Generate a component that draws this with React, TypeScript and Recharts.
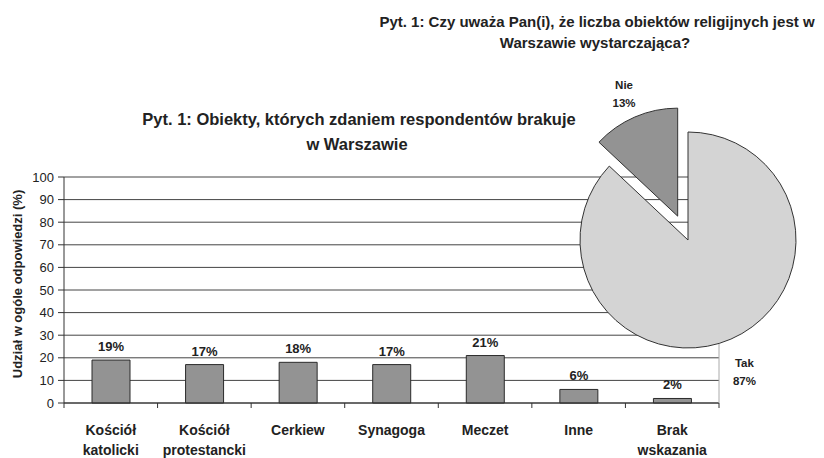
import {BarChart, Bar, XAxis, YAxis, CartesianGrid, LabelList, PieChart, Pie, Cell} from 'recharts';

// bar chart: which religious buildings respondents think are missing
const categories = ['Kościół katolicki', 'Kościół protestancki', 'Cerkiew', 'Synagoga', 'Meczet', 'Inne', 'Brak wskazania'];
const shares = [19, 17, 18, 17, 21, 6, 2];
const yTicks = [0, 10, 20, 30, 40, 50, 60, 70, 80, 90, 100];

// pie: is the number of religious buildings sufficient
const pieNames = ['Nie', 'Tak'];
const pieValues = [13, 87];

const W = 824;
const H = 458;
const FONT = '"Liberation Sans", Arial, sans-serif';
const INK = '#222';

const barData = categories.map((name, i) => ({name, value: shares[i]}));
const pieData = pieNames.map((name, i) => ({name, value: pieValues[i]}));

const margin = {top: 177, right: 104, bottom: 0, left: 0};
const yAxisWidth = 64;
const plotWidth = W - margin.left - yAxisWidth - margin.right - 1;
const band = plotWidth / categories.length;

const RADIAN = Math.PI / 180;
const pieCx = 688;
const pieCy = 240;
const pieR = 108;
const startAngle = 90;
const total = pieValues.reduce((a, b) => a + b, 0);
// "Nie" slice is pulled out along its bisector
const nieMid = startAngle + (360 * pieValues[0]) / total / 2;
const explode = 26;
const nieCx = pieCx + explode * Math.cos(nieMid * RADIAN);
const nieCy = pieCy - explode * Math.sin(nieMid * RADIAN);

function CategoryTick(props: any) {
    const {x, y, payload, index} = props;
    const lines = String(payload.value).split(' ');
    return (
        <g>
            <line x1={x - band / 2} x2={x - band / 2} y1={y} y2={y + 5} stroke="#333"/>
            {index === categories.length - 1 && (
                <line x1={x + band / 2} x2={x + band / 2} y1={y} y2={y + 5} stroke="#333"/>
            )}
            {lines.map((l, i) => (
                <text key={i} x={x} y={y + 32 + i * 20} textAnchor="middle"
                      style={{fontFamily: FONT, fontSize: 14, fontWeight: 'bold', fill: INK}}>
                    {l}
                </text>
            ))}
        </g>
    );
}

function pieLabel(visible: number, extra: number) {
    return (p: any) => {
        if (p.index !== visible) return null;
        const r = p.outerRadius + extra;
        const x = p.cx + r * Math.cos(-p.midAngle * RADIAN);
        const y = p.cy + r * Math.sin(-p.midAngle * RADIAN);
        return (
            <text x={x} textAnchor="middle" style={{fontFamily: FONT, fontSize: 11.5, fontWeight: 'bold', fill: INK}}>
                <tspan x={x} y={y - 3}>{p.name}</tspan>
                <tspan x={x} y={y + 15}>{`${p.value}%`}</tspan>
            </text>
        );
    };
}

export default function App() {
    return (
        <div style={{position: 'fixed', left: 0, top: 0, width: W, height: H, background: '#fff', fontFamily: FONT}}>
            <BarChart width={W} height={H} data={barData} margin={margin}>
                <CartesianGrid vertical={false} stroke="#444"/>
                <XAxis dataKey="name" height={55} tickLine={false} tickSize={0} tickMargin={0}
                       axisLine={{stroke: '#333'}} tick={<CategoryTick/>} interval={0}/>
                <YAxis width={yAxisWidth} domain={[0, 100]} ticks={yTicks} interval={0} tickSize={6} tickMargin={4}
                       axisLine={{stroke: '#333'}} tickLine={{stroke: '#333'}}
                       tick={{fill: INK, fontSize: 13, fontFamily: FONT}}/>
                <YAxis yAxisId="r" orientation="right" width={1} domain={[0, 100]} tick={false} tickLine={false}
                       axisLine={{stroke: '#aaa'}}/>
                <Bar dataKey="value" fill="#939393" stroke="#2b2b2b" strokeWidth={1} barSize={38} isAnimationActive={false}>
                    <LabelList dataKey="value" position="top" offset={9} formatter={(v: any) => `${v}%`}
                               style={{fill: INK, fontSize: 13, fontWeight: 'bold', fontFamily: FONT}}/>
                </Bar>
            </BarChart>

            <div style={{position: 'absolute', left: 0, top: 0, pointerEvents: 'none'}}>
                <PieChart width={W} height={H} margin={{top: 0, right: 0, bottom: 0, left: 0}}>
                    <Pie data={pieData} dataKey="value" cx={pieCx} cy={pieCy} outerRadius={pieR}
                         startAngle={startAngle} endAngle={startAngle + 360} labelLine={false}
                         label={pieLabel(1, 34)} isAnimationActive={false}>
                        <Cell fill="none" stroke="none"/>
                        <Cell fill="#d4d4d4" stroke="#333"/>
                    </Pie>
                    <Pie data={pieData} dataKey="value" cx={nieCx} cy={nieCy} outerRadius={pieR}
                         startAngle={startAngle} endAngle={startAngle + 360} labelLine={false}
                         label={pieLabel(0, 27)} isAnimationActive={false}>
                        <Cell fill="#939393" stroke="#333"/>
                        <Cell fill="none" stroke="none"/>
                    </Pie>
                </PieChart>
            </div>

            <svg width={W} height={H} style={{position: 'absolute', left: 0, top: 0, pointerEvents: 'none'}}>
                <g style={{fontFamily: FONT, fontWeight: 'bold', fill: INK}}>
                    <text x={597} y={27} textAnchor="middle" fontSize={15}>
                        Pyt. 1: Czy uważa Pan(i), że liczba obiektów religijnych jest w
                    </text>
                    <text x={595} y={48} textAnchor="middle" fontSize={15}>
                        Warszawie wystarczająca?
                    </text>
                    <text x={359} y={125} textAnchor="middle" fontSize={16.5}>
                        Pyt. 1: Obiekty, których zdaniem respondentów brakuje
                    </text>
                    <text x={357} y={150} textAnchor="middle" fontSize={16.5}>
                        w Warszawie
                    </text>
                    <text transform="translate(21.5,284) rotate(-90)" textAnchor="middle" fontSize={13}>
                        Udział w ogóle odpowiedzi (%)
                    </text>
                </g>
            </svg>
        </div>
    );
}
